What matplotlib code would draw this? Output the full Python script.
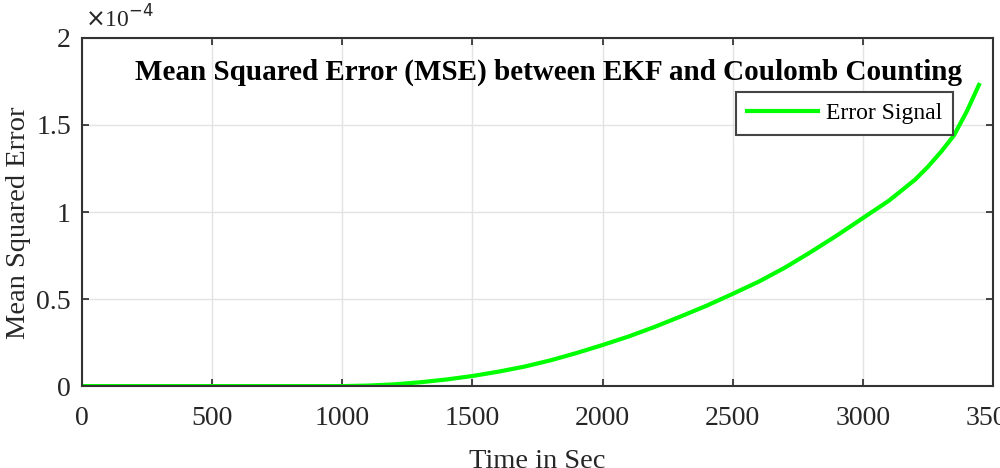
import matplotlib.pyplot as plt
from matplotlib.ticker import FuncFormatter

# time (s) and MSE (in units of 1e-4)
time_s = [0, 500, 1000, 1100, 1200, 1300, 1400, 1500, 1600, 1700, 1800, 1900,
          2000, 2100, 2200, 2300, 2400, 2500, 2600, 2700, 2800, 2900, 3000,
          3100, 3200, 3250, 3300, 3350, 3400, 3446]
mse_e4 = [0, 0, 0, 0.003, 0.01, 0.022, 0.038, 0.058, 0.083, 0.112, 0.148, 0.19,
          0.236, 0.285, 0.34, 0.40, 0.462, 0.53, 0.60, 0.68, 0.77, 0.865, 0.965,
          1.065, 1.185, 1.26, 1.345, 1.44, 1.58, 1.73]

xticks = [0, 500, 1000, 1500, 2000, 2500, 3000, 3500]
yticks = [0, 0.5, 1, 1.5, 2]

plt.rcParams['font.family'] = ['Liberation Serif', 'DejaVu Serif']

fig = plt.figure(figsize=(10, 4.68), dpi=100)
ax = fig.add_axes([0.082, 0.175, 0.911, 0.744])

ax.plot(time_s, mse_e4, color=(0, 1, 0), lw=3, label="Error Signal")

ax.set_xlim(0, 3500)
ax.set_ylim(0, 2)
ax.set_xticks(xticks)
ax.set_yticks(yticks)
ax.yaxis.set_major_formatter(FuncFormatter(lambda v, p: "%g" % v))
ax.grid(True, color="#e3e3e3", lw=1)
ax.set_axisbelow(True)

ax.tick_params(direction="in", length=5, width=1.2, colors="#262626",
               labelsize=20, top=True, right=True)
ax.tick_params(axis="x", pad=14)
ax.tick_params(axis="y", pad=8)
for s in ax.spines.values():
    s.set_color("#333333")
    s.set_linewidth(1.5)

ax.set_xlabel("Time in Sec", fontsize=20.5, color="#262626")
ax.xaxis.set_label_coords(0.5, -0.18)
ax.set_ylabel("Mean Squared Error", fontsize=20.5, color="#262626")
ax.yaxis.set_label_coords(-0.056, 0.47)

ax.text(0.003, 1.015, r"$\times$10$^{-4}$", transform=ax.transAxes,
        fontsize=17, color="#262626", ha="left", va="bottom")

ax.text(0.512, 0.902, "Mean Squared Error (MSE) between EKF and Coulomb Counting",
        transform=ax.transAxes, ha="center", va="center",
        fontsize=21, fontweight="bold", color="black")

leg = ax.legend(loc="upper right", bbox_to_anchor=(0.956, 0.845),
                borderaxespad=0, fontsize=17, handlelength=3.0,
                fancybox=False, framealpha=1, edgecolor="#444444",
                borderpad=0.45, handletextpad=0.35)
leg.get_frame().set_linewidth(1.5)

fig.savefig("out.png", dpi=100)
